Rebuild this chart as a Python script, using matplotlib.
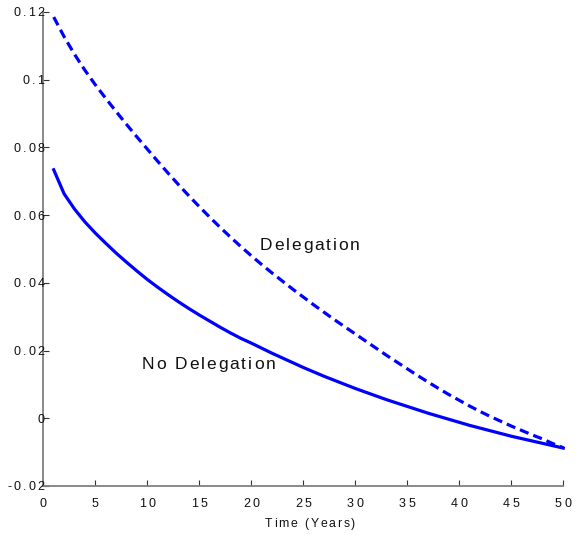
import matplotlib
matplotlib.use('Agg')
import matplotlib.pyplot as plt
from matplotlib.font_manager import FontProperties
from matplotlib.textpath import TextToPath

# years 1..50
years = list(range(1, 51))

# cost path with delegation (dashed)
delegation = [0.1185, 0.1127, 0.1075, 0.1028, 0.0985, 0.0945, 0.0906, 0.0868, 0.0831, 0.0795,
              0.0759, 0.0724, 0.0690, 0.0657, 0.0625, 0.0594, 0.0564, 0.0535, 0.0507, 0.0480,
              0.0454, 0.0429, 0.0405, 0.0381, 0.0358, 0.0335, 0.0313, 0.0291, 0.0270, 0.0249,
              0.0228, 0.0207, 0.0186, 0.0166, 0.0146, 0.0126, 0.0107, 0.0088, 0.0070, 0.0053,
              0.0036, 0.0020, 0.0005, -0.0009, -0.0023, -0.0036, -0.0049, -0.0061, -0.0075, -0.0087]

# cost path without delegation (solid)
no_delegation = [0.0734, 0.0663, 0.0618, 0.0580, 0.0547, 0.0517, 0.0488, 0.0461, 0.0435, 0.0410,
                 0.0387, 0.0365, 0.0344, 0.0324, 0.0305, 0.0287, 0.0269, 0.0252, 0.0236, 0.0222,
                 0.0207, 0.0192, 0.0178, 0.0164, 0.0150, 0.0137, 0.0124, 0.0112, 0.0100, 0.0088,
                 0.0077, 0.0066, 0.0055, 0.0045, 0.0035, 0.0025, 0.0015, 0.0006, -0.0003, -0.0012,
                 -0.0021, -0.0029, -0.0037, -0.0045, -0.0053, -0.0060, -0.0067, -0.0074, -0.0081, -0.0088]

xticks = [0, 5, 10, 15, 20, 25, 30, 35, 40, 45, 50]
yticks = [-0.02, 0, 0.02, 0.04, 0.06, 0.08, 0.1, 0.12]
ytick_labels = ['-0.02', '0', '0.02', '0.04', '0.06', '0.08', '0.1', '0.12']

FONT = 'Liberation Sans'
ttp = TextToPath()


def spaced_text(ax, x, y, s, size, gap, xycoords, ha='left', dx=0.0, dy=0.0):
    # draws text one glyph at a time so the letters can be spread out
    fp = FontProperties(family=FONT, size=size)
    widths = [ttp.get_text_width_height_descent(c, fp, ismath=False)[0] for c in s]
    total = sum(widths) + gap * (len(s) - 1)
    off = {'left': 0.0, 'center': -total / 2.0, 'right': -total}[ha] + dx
    for c, w in zip(s, widths):
        ax.annotate(c, (x, y), xycoords=xycoords, xytext=(off, dy),
                    textcoords='offset points', fontproperties=fp,
                    ha='left', va='baseline', color='#111111',
                    annotation_clip=False)
        off += w + gap


fig = plt.figure(figsize=(5.79, 5.35), dpi=100)
ax = fig.add_axes([0.0748, 0.0916, 0.8981, 0.886])

ax.plot(years, delegation, color='#0000ff', lw=2.3, dashes=(2.9, 1.6), clip_on=False)
ax.plot(years, no_delegation, color='#0000ff', lw=2.3, clip_on=False)

ax.set_xlim(0, 50)
ax.set_ylim(-0.02, 0.12)
ax.set_xticks(xticks)
ax.set_yticks(yticks)
ax.set_xticklabels([])
ax.set_yticklabels([])
ax.tick_params(direction='in', length=4.5, width=0.8, color='#333333')

for side in ['top', 'right']:
    ax.spines[side].set_visible(False)
for side in ['left', 'bottom']:
    ax.spines[side].set_color('#808080')
    ax.spines[side].set_linewidth(1.3)

# tick labels
for t in xticks:
    spaced_text(ax, t, 0, str(t), 9, 2.2, ax.get_xaxis_transform(), ha='center', dy=-14.9)
for v, lab in zip(yticks, ytick_labels):
    spaced_text(ax, 0, v, lab, 9, 1.5, ax.get_yaxis_transform(), ha='right', dx=0.6, dy=-3.2)

# axis label
spaced_text(ax, 0.513, 0, 'Time (Years)', 8.8, 1.3, ax.transAxes, ha='center', dy=-29.3)

# curve labels
spaced_text(ax, 20.77, 0.0497, 'Delegation', 12.5, 1.4, 'data')
spaced_text(ax, 9.46, 0.0146, 'No Delegation', 12.5, 1.4, 'data')

fig.savefig('out.png', dpi=100)
